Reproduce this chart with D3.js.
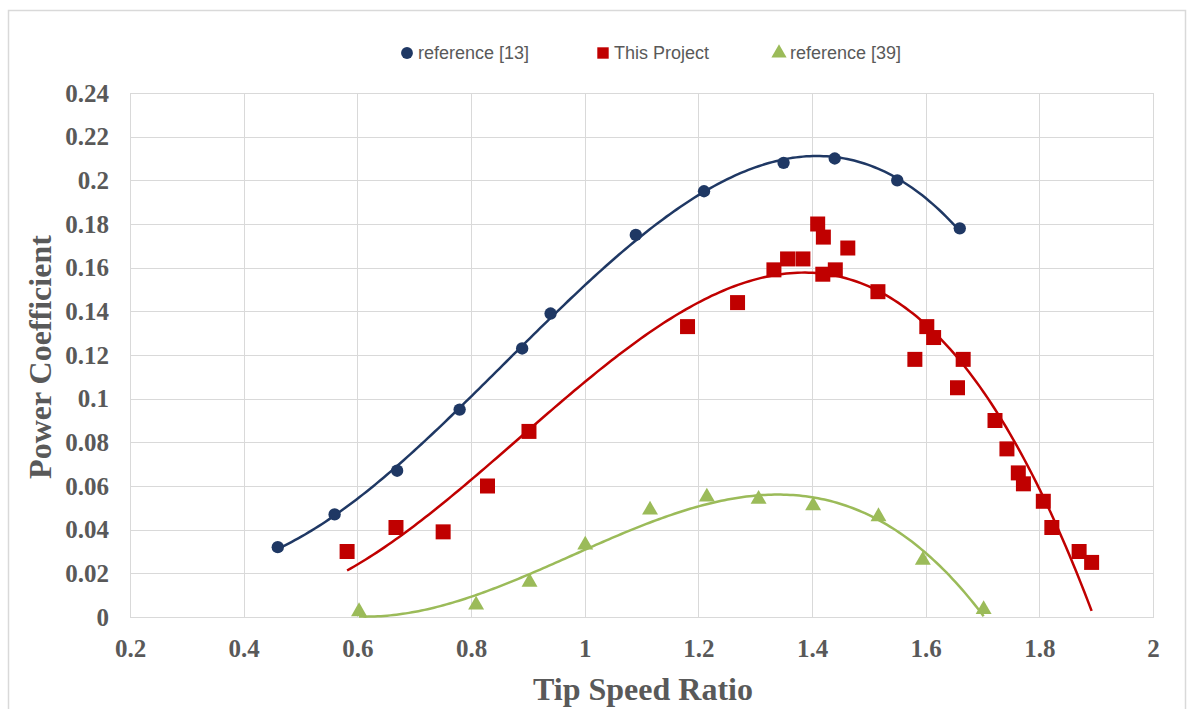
<!DOCTYPE html>
<html>
<head>
<meta charset="utf-8">
<script src="https://cdn.jsdelivr.net/npm/d3@7/dist/d3.min.js"></script>
<style>
  html,body{margin:0;padding:0;background:#fff;}
  svg{display:block;}
  .tick text{font-family:"Liberation Serif","Times New Roman",serif;font-weight:bold;font-size:25px;fill:#595959;}
  .ttl{font-family:"Liberation Serif","Times New Roman",serif;font-weight:bold;font-size:32px;fill:#595959;}
  .leg text{font-family:"Liberation Sans",Arial,sans-serif;font-size:18px;fill:#595959;}
</style>
</head>
<body>
<svg id="chart" width="1193" height="709"></svg>
<script>
// values
const ref13X = [0.46,0.56,0.67,0.78,0.89,0.94,1.09,1.21,1.35,1.44,1.55,1.66];
const ref13Y = [0.032,0.047,0.067,0.095,0.123,0.139,0.175,0.195,0.208,0.210,0.200,0.178];

const projX = [0.582,0.668,0.751,0.829,0.902,1.181,1.269,1.333,1.357,1.384,1.410,1.420,1.419,1.441,1.463,
               1.516,1.581,1.602,1.614,1.656,1.666,1.722,1.743,1.763,1.772,1.807,1.822,1.870,1.892];
const projY = [0.030,0.041,0.039,0.060,0.085,0.133,0.144,0.159,0.164,0.164,0.180,0.174,0.157,0.159,0.169,
               0.149,0.118,0.133,0.128,0.105,0.118,0.090,0.077,0.066,0.061,0.053,0.041,0.030,0.025];

const ref39X = [0.603,0.809,0.903,1.001,1.115,1.215,1.306,1.402,1.517,1.595,1.702];
const ref39Y = [0.0025,0.0055,0.016,0.033,0.049,0.055,0.054,0.051,0.046,0.026,0.0035];

const seriesNames = ['reference [13]','This Project','reference [39]'];
const seriesColors = ['#1f3864','#c00000','#9bbb59'];
const xTicks = [0.2,0.4,0.6,0.8,1,1.2,1.4,1.6,1.8,2];
const yTicks = [0,0.02,0.04,0.06,0.08,0.1,0.12,0.14,0.16,0.18,0.2,0.22,0.24];

const M = {left:130, right:1153, top:93, bottom:617};

const svg = d3.select('#chart');
const x = d3.scaleLinear().domain([0.2,2]).range([M.left,M.right]);
const y = d3.scaleLinear().domain([0,0.24]).range([M.bottom,M.top]);

// outer chart frame
svg.append('rect').attr('x',8.5).attr('y',10.5).attr('width',1177).attr('height',720)
  .attr('fill','none').attr('stroke','#d9d9d9').attr('stroke-width',1.5);

// grid
const grid = svg.append('g');
grid.selectAll('line.h').data(yTicks).join('line').attr('class','h')
  .attr('x1',M.left).attr('x2',M.right)
  .attr('y1',d=>Math.round(y(d))+0.5).attr('y2',d=>Math.round(y(d))+0.5)
  .attr('stroke','#d9d9d9').attr('stroke-width',1);
grid.selectAll('line.v').data(xTicks).join('line').attr('class','v')
  .attr('y1',M.top).attr('y2',M.bottom)
  .attr('x1',d=>Math.round(x(d))+0.5).attr('x2',d=>Math.round(x(d))+0.5)
  .attr('stroke','#d9d9d9').attr('stroke-width',1);
svg.append('rect').attr('x',M.left+0.5).attr('y',M.top+0.5)
  .attr('width',M.right-M.left).attr('height',M.bottom-M.top)
  .attr('fill','none').attr('stroke','#d9d9d9');

// axes (labels only)
const xAxis = svg.append('g').attr('transform',`translate(0,${M.bottom})`)
  .call(d3.axisBottom(x).tickValues(xTicks).tickSize(0).tickPadding(22).tickFormat(d3.format('')));
xAxis.select('.domain').remove();
const yAxis = svg.append('g').attr('transform',`translate(${M.left},0)`)
  .call(d3.axisLeft(y).tickValues(yTicks).tickSize(0).tickPadding(21).tickFormat(d3.format('')));
yAxis.select('.domain').remove();

svg.append('text').attr('class','ttl').attr('x',643).attr('y',700)
  .attr('text-anchor','middle').text('Tip Speed Ratio');
svg.append('text').attr('class','ttl')
  .attr('transform','translate(51,357) rotate(-90)')
  .attr('text-anchor','middle').text('Power Coefficient');

// least squares polynomial trendline (like Excel's poly trendline)
function polyFit(xs, ys, order){
  const n = order+1;
  const A = Array.from({length:n},()=>new Array(n+1).fill(0));
  for(let i=0;i<xs.length;i++){
    for(let r=0;r<n;r++){
      for(let c=0;c<n;c++) A[r][c] += Math.pow(xs[i], r+c);
      A[r][n] += ys[i]*Math.pow(xs[i], r);
    }
  }
  for(let k=0;k<n;k++){
    let p=k; for(let r=k+1;r<n;r++) if(Math.abs(A[r][k])>Math.abs(A[p][k])) p=r;
    [A[k],A[p]]=[A[p],A[k]];
    for(let r=k+1;r<n;r++){ const f=A[r][k]/A[k][k]; for(let c=k;c<=n;c++) A[r][c]-=f*A[k][c]; }
  }
  const co=new Array(n).fill(0);
  for(let k=n-1;k>=0;k--){ let s=A[k][n]; for(let c=k+1;c<n;c++) s-=A[k][c]*co[c]; co[k]=s/A[k][k]; }
  return t => co.reduce((s,v,i)=>s+v*Math.pow(t,i),0);
}

const series = [
  {xs:ref13X, ys:ref13Y, order:3, shape:d3.symbolCircle, size:120},
  {xs:projX,  ys:projY,  order:3, shape:d3.symbolSquare, size:225},
  {xs:ref39X, ys:ref39Y, order:3, shape:d3.symbolTriangle, size:110}
];

const line = d3.line().x(d=>x(d[0])).y(d=>y(d[1]));
series.forEach((s,i)=>{
  const f = polyFit(s.xs, s.ys, s.order);
  const [lo,hi] = d3.extent(s.xs);
  const pts = d3.range(0,201).map(k=>{ const t=lo+(hi-lo)*k/200; return [t,f(t)]; });
  svg.append('path').attr('d',line(pts)).attr('fill','none')
    .attr('stroke',seriesColors[i]).attr('stroke-width',2.5);
});
series.forEach((s,i)=>{
  svg.append('g').selectAll('path').data(s.xs.map((v,k)=>[v,s.ys[k]])).join('path')
    .attr('d',d3.symbol().type(s.shape).size(s.size))
    .attr('transform',d=>`translate(${x(d[0])},${y(d[1])})`)
    .attr('fill',seriesColors[i]);
});

// legend
const legX = [407,603,779];
const leg = svg.append('g').attr('class','leg');
series.forEach((s,i)=>{
  leg.append('path').attr('d',d3.symbol().type(s.shape).size(s.shape===d3.symbolSquare?130:(s.shape===d3.symbolCircle?110:100)))
    .attr('transform',`translate(${legX[i]},53)`).attr('fill',seriesColors[i]);
  leg.append('text').attr('x',legX[i]+11).attr('y',59).text(seriesNames[i]);
});
</script>
</body>
</html>
